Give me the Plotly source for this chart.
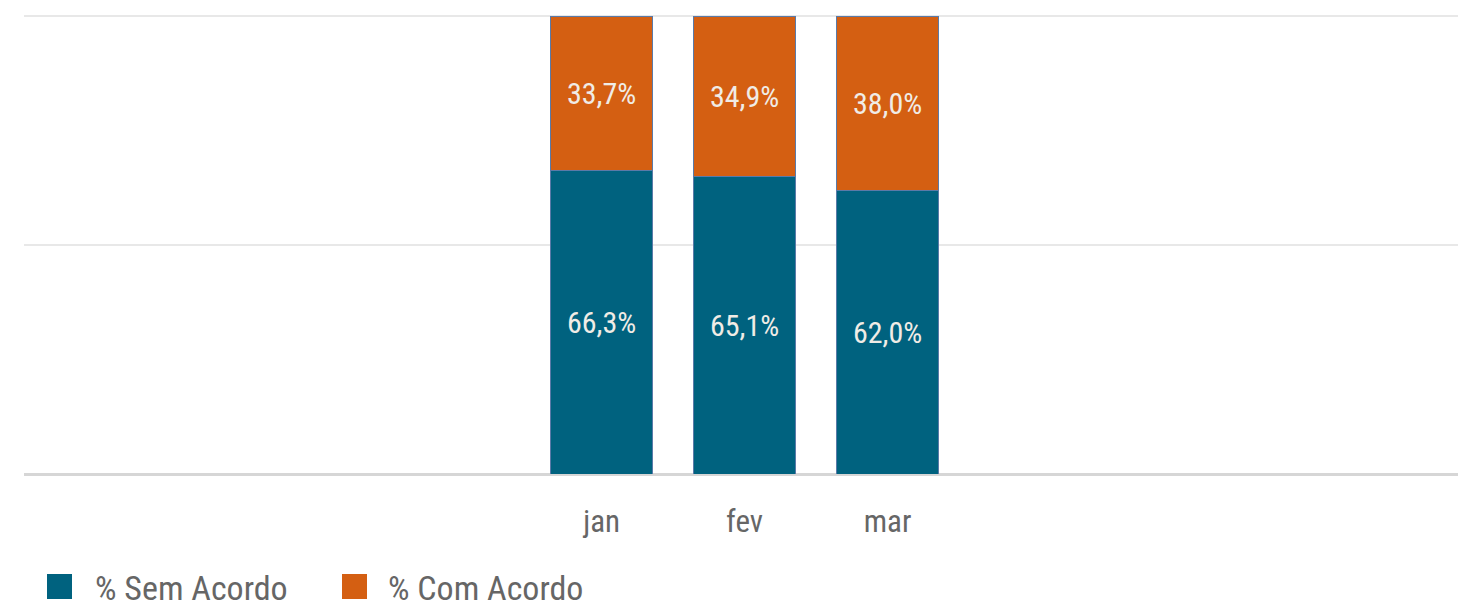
import plotly.graph_objects as go

months = ["jan", "fev", "mar"]
sem_acordo = [66.3, 65.1, 62.0]
com_acordo = [33.7, 34.9, 38.0]
series_names = ["% Sem Acordo", "% Com Acordo"]
colors = ["#00627F", "#D45F12"]

FONT = "Roboto Condensed, Liberation Sans Narrow, Lato, sans-serif"

# plot-area geometry in pixels (figure coords) used to place the manual legend
L, T, W, H = 16, 7, 1434, 459


def px_x(X):
    return (X - 24) / W


def px_y(Y):
    return (474 - Y) / H


fig = go.Figure()
for name, vals, col in zip(series_names, [sem_acordo, com_acordo], colors):
    fig.add_trace(go.Bar(
        x=months, y=vals, name=name,
        marker=dict(color=col, line=dict(color="#5a7aa8", width=1)),
        texttemplate="%{y:.1f}%", textposition="inside",
        insidetextanchor="middle", textangle=0, constraintext="none",
        textfont=dict(color="#f0ece6", size=30, family=FONT),
        width=0.71, showlegend=False, hoverinfo="skip",
    ))

# manual legend (large square swatches)
legend_x = [(47, 93), (342, 386)]
for (sx, tx), name, col in zip(legend_x, series_names, colors):
    fig.add_shape(type="rect", xref="paper", yref="paper",
                  x0=px_x(sx), x1=px_x(sx + 25), y0=px_y(599), y1=px_y(574),
                  fillcolor=col, line=dict(width=0))
    fig.add_annotation(xref="paper", yref="paper", x=px_x(tx), y=px_y(588),
                       xanchor="left", yanchor="middle", showarrow=False,
                       text=name, font=dict(size=34, color="#666666", family=FONT))

fig.update_layout(
    barmode="stack",
    width=1468, height=616,
    margin=dict(l=L, r=1468 - L - W, t=T, b=616 - T - H, autoexpand=False),
    paper_bgcolor="white", plot_bgcolor="white",
    separators=",.",
    showlegend=False,
    font=dict(family=FONT, color="#666666", size=28),
    xaxis=dict(range=[-4.04, 5.99], showgrid=False, showline=False, zeroline=False,
               automargin=False,
               ticks="outside", ticklen=20, tickcolor="rgba(0,0,0,0)",
               tickfont=dict(size=31, color="#666666", family=FONT)),
    yaxis=dict(range=[0, 100.3], tickvals=[0, 50, 100], showticklabels=False,
               automargin=False,
               gridcolor="#e8e8e8", gridwidth=2, zeroline=True,
               zerolinecolor="#d6d6d6", zerolinewidth=3, showline=False),
)

fig.write_html("out.html")
